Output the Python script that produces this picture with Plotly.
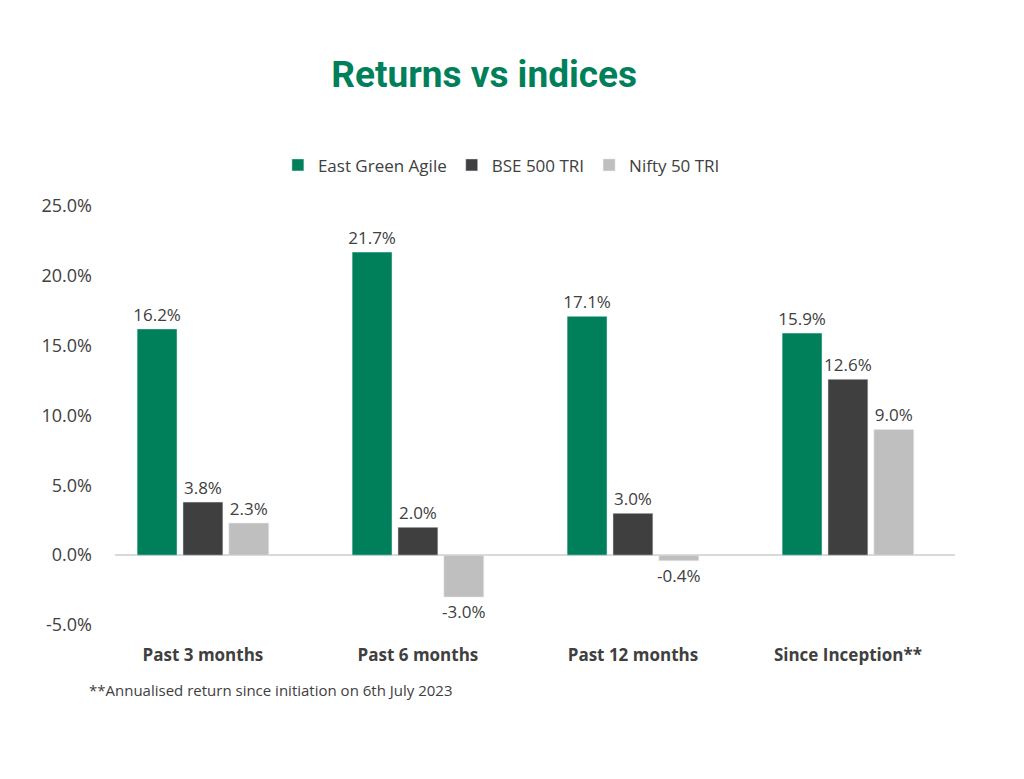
import plotly.graph_objects as go

categories = ["Past 3 months", "Past 6 months", "Past 12 months", "Since Inception**"]
east_green = [16.2, 21.7, 17.1, 15.9]
bse_500 = [3.8, 2.0, 3.0, 12.6]
nifty_50 = [2.3, -3.0, -0.4, 9.0]
tick_vals = [-5, 0, 5, 10, 15, 20, 25]

series = [
    ("East Green Agile", east_green, "#00805A"),
    ("BSE 500 TRI", bse_500, "#3F3F3F"),
    ("Nifty 50 TRI", nifty_50, "#BFBFBF"),
]

fig = go.Figure()
for name, vals, col in series:
    fig.add_bar(x=categories, y=vals, name=name, marker_color=col,
                text=[f"{v:.1f}%" for v in vals], textposition="outside",
                constraintext="none",
                textfont=dict(size=17, color="#404040"), cliponaxis=False)

fig.update_layout(
    width=1024, height=779,
    paper_bgcolor="white", plot_bgcolor="white",
    font=dict(family="Open Sans, sans-serif", color="#404040"),
    margin=dict(l=107, r=77, t=198, b=162, autoexpand=False),
    barmode="group", bargap=0.36, bargroupgap=0.13,
    title=dict(text="<b>Returns vs indices</b>", x=0.465, xanchor="center",
               y=0.915, yanchor="middle",
               font=dict(size=37, color="#00805A", family="Roboto, sans-serif")),
    legend=dict(orientation="h", x=0.46, xanchor="center", y=1.097, yanchor="middle",
                font=dict(size=17, color="#404040")),
    showlegend=True,
)
fig.update_yaxes(range=[-5, 25], tickvals=tick_vals,
                 ticktext=[f"{v:.1f}%" for v in tick_vals],
                 showgrid=False, zeroline=True, zerolinecolor="#D9D9D9",
                 zerolinewidth=1.5, tickfont=dict(size=18, color="#404040"),
                 ticklabelstandoff=22, automargin=False)
fig.update_xaxes(showgrid=False, showline=False, automargin=False,
                 range=[-0.409, 3.498], ticklabelstandoff=18,
                 tickvals=categories, ticktext=[f"<b>{c}</b>" for c in categories],
                 tickfont=dict(size=17, color="#404040", family="Open Sans, sans-serif"))
fig.add_annotation(text="**Annualised return since initiation on 6th July 2023",
                   xref="paper", yref="paper", x=-0.033, y=-0.155,
                   xanchor="left", yanchor="middle", showarrow=False,
                   font=dict(size=15, color="#404040"))
fig.write_html("out.html")
